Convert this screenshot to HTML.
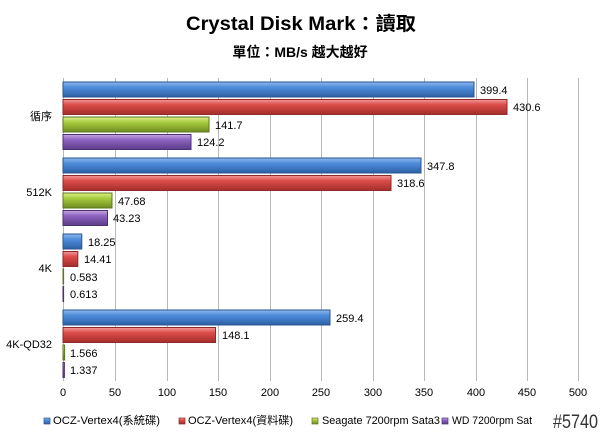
<!DOCTYPE html>
<html><head><meta charset="utf-8"><style>
body{margin:0;background:#fff;}
svg{display:block;font-family:"Liberation Sans","Noto Sans CJK TC",sans-serif;}
</style></head><body>
<svg width="600" height="439" viewBox="0 0 600 439" xmlns="http://www.w3.org/2000/svg">
<defs>
<linearGradient id="gb" x1="0" y1="0" x2="0" y2="1"><stop offset="0" stop-color="#8fb8ec"/><stop offset="0.35" stop-color="#4f8edb"/><stop offset="1" stop-color="#2d5fa5"/></linearGradient>
<linearGradient id="gr" x1="0" y1="0" x2="0" y2="1"><stop offset="0" stop-color="#f19a99"/><stop offset="0.35" stop-color="#dc4b48"/><stop offset="1" stop-color="#a32e2c"/></linearGradient>
<linearGradient id="gg" x1="0" y1="0" x2="0" y2="1"><stop offset="0" stop-color="#dcf08c"/><stop offset="0.35" stop-color="#a8cc3e"/><stop offset="1" stop-color="#6e8c22"/></linearGradient>
<linearGradient id="gp" x1="0" y1="0" x2="0" y2="1"><stop offset="0" stop-color="#c7a8e4"/><stop offset="0.35" stop-color="#8e64c0"/><stop offset="1" stop-color="#5c3c88"/></linearGradient>
</defs>
<text x="186" y="30" font-size="19" font-weight="bold" fill="#000" textLength="230" lengthAdjust="spacingAndGlyphs">Crystal Disk Mark：讀取</text>
<text x="300" y="57" font-size="14" font-weight="bold" text-anchor="middle" fill="#000">單位：MB/s 越大越好</text>
<g stroke="#b8b8b8" stroke-width="1">
<line x1="63.5" y1="78" x2="63.5" y2="381"/><line x1="115.5" y1="78" x2="115.5" y2="381"/><line x1="167.5" y1="78" x2="167.5" y2="381"/><line x1="218.5" y1="78" x2="218.5" y2="381"/><line x1="270.5" y1="78" x2="270.5" y2="381"/><line x1="321.5" y1="78" x2="321.5" y2="381"/><line x1="373.5" y1="78" x2="373.5" y2="381"/><line x1="424.5" y1="78" x2="424.5" y2="381"/><line x1="476.5" y1="78" x2="476.5" y2="381"/><line x1="527.5" y1="78" x2="527.5" y2="381"/><line x1="578.5" y1="78" x2="578.5" y2="381"/>
</g>
<g font-size="11" fill="#000" text-anchor="middle">
<text x="63" y="396">0</text><text x="115" y="396">50</text><text x="167" y="396">100</text><text x="218" y="396">150</text><text x="270" y="396">200</text><text x="321" y="396">250</text><text x="373" y="396">300</text><text x="424" y="396">350</text><text x="476" y="396">400</text><text x="527" y="396">450</text><text x="578" y="396">500</text>
</g>
<g font-size="11" fill="#000" text-anchor="end">
<text x="52" y="120">循序</text><text x="52" y="196">512K</text><text x="52" y="272">4K</text><text x="52" y="348">4K-QD32</text>
</g>
<g stroke-width="1">
<rect x="63" y="82" width="411" height="15" fill="url(#gb)" stroke="#2a5590"/>
<rect x="63" y="99.5" width="444" height="15" fill="url(#gr)" stroke="#8e2a28"/>
<rect x="63" y="117" width="146" height="15" fill="url(#gg)" stroke="#5c7620"/>
<rect x="63" y="134.5" width="128" height="15" fill="url(#gp)" stroke="#4c3274"/>
<rect x="63" y="158" width="358" height="15" fill="url(#gb)" stroke="#2a5590"/>
<rect x="63" y="175.5" width="328" height="15" fill="url(#gr)" stroke="#8e2a28"/>
<rect x="63" y="193" width="49" height="15" fill="url(#gg)" stroke="#5c7620"/>
<rect x="63" y="210.5" width="44.5" height="15" fill="url(#gp)" stroke="#4c3274"/>
<rect x="63" y="234" width="18.8" height="15" fill="url(#gb)" stroke="#2a5590"/>
<rect x="63" y="251.5" width="14.8" height="15" fill="url(#gr)" stroke="#8e2a28"/>
<rect x="63" y="269" width="0.6" height="15" fill="url(#gg)" stroke="#5c7620"/>
<rect x="63" y="286.5" width="0.6" height="15" fill="url(#gp)" stroke="#4c3274"/>
<rect x="63" y="310" width="267" height="15" fill="url(#gb)" stroke="#2a5590"/>
<rect x="63" y="327.5" width="152.5" height="15" fill="url(#gr)" stroke="#8e2a28"/>
<rect x="63" y="345" width="1.6" height="15" fill="url(#gg)" stroke="#5c7620"/>
<rect x="63" y="362.5" width="1.4" height="15" fill="url(#gp)" stroke="#4c3274"/>
</g>
<g font-size="11" fill="#000">
<text x="480" y="94">399.4</text><text x="513" y="111">430.6</text><text x="215" y="129">141.7</text><text x="197" y="146">124.2</text>
<text x="427" y="170">347.8</text><text x="397" y="187">318.6</text><text x="118" y="205">47.68</text><text x="113" y="222">43.23</text>
<text x="88" y="246">18.25</text><text x="84" y="263">14.41</text><text x="70" y="281">0.583</text><text x="70" y="298">0.613</text>
<text x="336" y="322">259.4</text><text x="222" y="339">148.1</text><text x="70" y="357">1.566</text><text x="70" y="374">1.337</text>
</g>
<g font-size="11" fill="#000">
<rect x="44" y="418" width="6" height="6" fill="url(#gb)" stroke="#2a5590" stroke-width="0.7"/><text x="53" y="424" textLength="107" lengthAdjust="spacingAndGlyphs">OCZ-Vertex4(系統碟)</text>
<rect x="179" y="418" width="6" height="6" fill="url(#gr)" stroke="#8e2a28" stroke-width="0.7"/><text x="188" y="424" textLength="105" lengthAdjust="spacingAndGlyphs">OCZ-Vertex4(資料碟)</text>
<rect x="312" y="418" width="6" height="6" fill="url(#gg)" stroke="#5c7620" stroke-width="0.7"/><text x="322" y="424" textLength="118" lengthAdjust="spacingAndGlyphs">Seagate 7200rpm Sata3</text>
<rect x="442" y="418" width="6" height="6" fill="url(#gp)" stroke="#4c3274" stroke-width="0.7"/><text x="452" y="424" textLength="80" lengthAdjust="spacingAndGlyphs">WD 7200rpm Sat</text>
</g>
<text x="553" y="428" font-size="19" fill="#333" textLength="45" lengthAdjust="spacingAndGlyphs">#5740</text>
</svg>
</body></html>
